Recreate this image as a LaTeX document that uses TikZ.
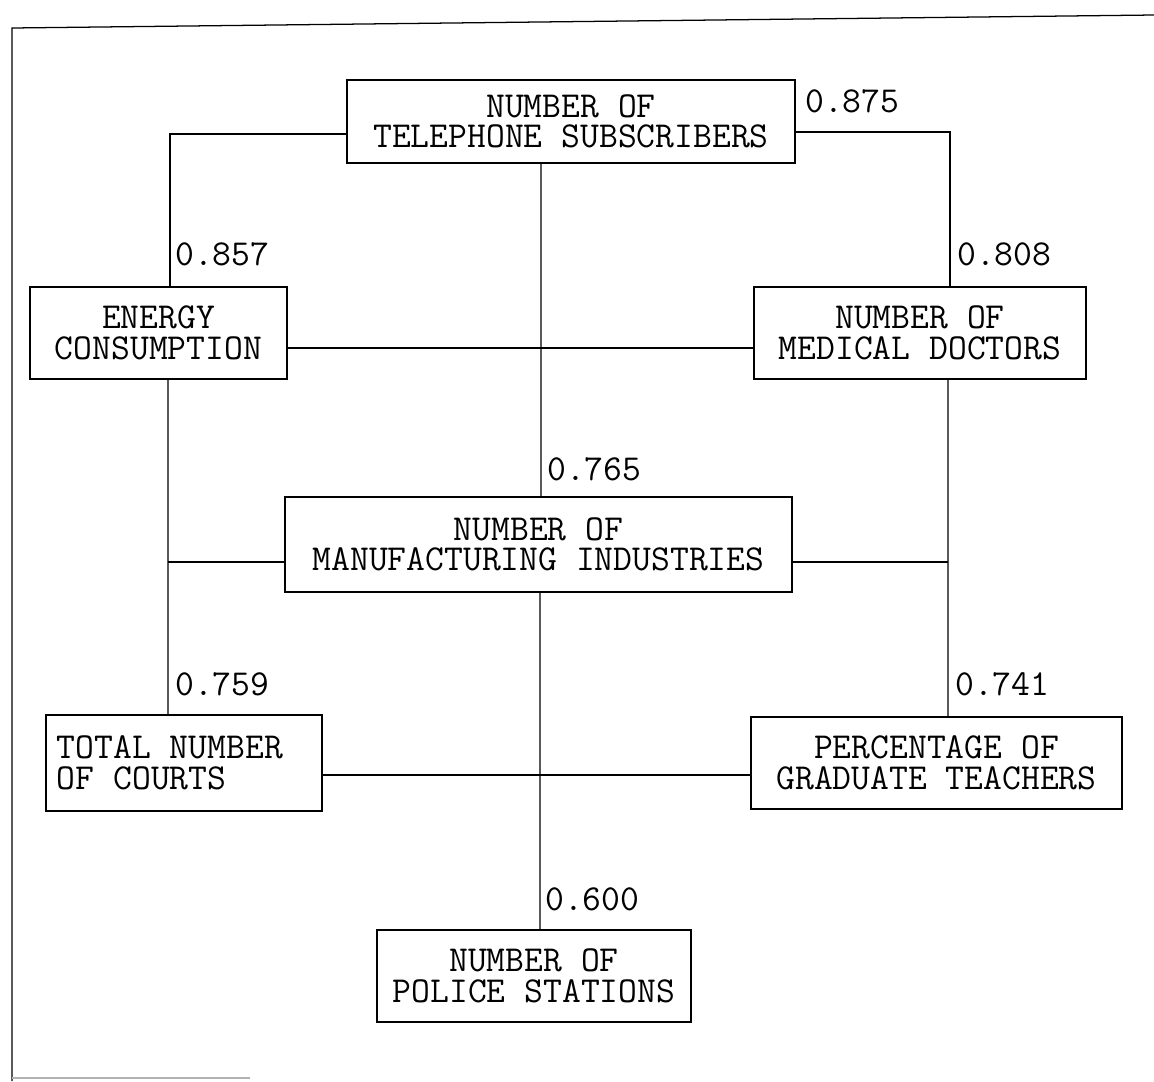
\documentclass[tikz,border=0pt]{standalone}
\usepackage{fontspec}
\usepackage{tikz}
\usetikzlibrary{calc,positioning}

\begin{document}
\begin{tikzpicture}[x=0.025cm,y=-0.025cm,
  box/.style={draw,line width=1.1pt,inner sep=0pt,align=center,
    font=\ttfamily\fontsize{26}{21.7}\selectfont},
  lbl/.style={anchor=base west,inner sep=0pt,
    font=\ttfamily\fontsize{26}{21.7}\selectfont},
  link/.style={line width=0.8pt}]
\useasboundingbox (0,0) rectangle (1154,1081);
% frame of the scanned page
\draw[line width=0.9pt] (12,1081)--(12,28)--(1154,15);
\draw[line width=0.9pt,gray!60] (12,1078)--(250,1078);

% boxes
\node[box,minimum width=11.2cm,minimum height=2.075cm] (phone) at (571,121.5)
  {NUMBER OF\\TELEPHONE SUBSCRIBERS};
\node[box,minimum width=6.425cm,minimum height=2.3cm] (energy) at (158.5,333)
  {ENERGY\\CONSUMPTION};
\node[box,minimum width=8.3cm,minimum height=2.3cm] (doctors) at (920,333)
  {NUMBER OF\\MEDICAL DOCTORS};
\node[box,minimum width=12.675cm,minimum height=2.375cm] (industry) at (538.5,544.5)
  {NUMBER OF\\MANUFACTURING INDUSTRIES};
\node[box,align=left,inner xsep=0.275cm,minimum height=2.4cm]
  (courts) at (184,763) {\makebox[6.35cm][l]{TOTAL NUMBER}\\OF COURTS};
\node[box,minimum width=9.275cm,minimum height=2.3cm] (teachers) at (936.5,763)
  {PERCENTAGE OF\\GRADUATE TEACHERS};
\node[box,minimum width=7.85cm,minimum height=2.3cm] (police) at (534,976)
  {NUMBER OF\\POLICE STATIONS};

% connectors
\draw[link] ([shift={(0,12.5)}]phone.west) -| ([shift={(11.5,0)}]energy.north);
\draw[link] ([shift={(0,10.5)}]phone.east) -| ([shift={(30,0)}]doctors.north);
\draw[link] ([shift={(-30,0)}]phone.south) -- ([shift={(2.5,0)}]industry.north);
\draw[link] ([shift={(0,15)}]energy.east) -- ([shift={(0,15)}]doctors.west);
\coordinate (energyS) at ([shift={(9.5,0)}]energy.south);
\coordinate (doctorsS) at ([shift={(28,0)}]doctors.south);
\draw[link] (energyS) -- ([shift={(-16,0)}]courts.north);
\draw[link] (doctorsS) -- ([shift={(11.5,0)}]teachers.north);
\coordinate (industryW) at ([shift={(0,17.5)}]industry.west);
\coordinate (industryE) at ([shift={(0,17.5)}]industry.east);
\draw[link] (industryW) -- (industryW -| energyS);
\draw[link] (industryE) -- (industryE -| doctorsS);
\draw[link] ([shift={(0,12)}]courts.east) -- ([shift={(0,12)}]teachers.west);
\draw[link] ([shift={(1.5,0)}]industry.south) -- ([shift={(6,0)}]police.north);

% coefficients
\node[lbl] (r1) at (805,112) {0.875};
\node[lbl] (r2) at (175,265) {0.857};
\node[lbl] (r3) at (957,265) {0.808};
\node[lbl] (r4) at (547,480) {0.765};
\node[lbl] (r5) at (175,695) {0.759};
\node[lbl] (r6) at (955,695) {0.741};
\node[lbl] (r7) at (545,910) {0.600};
\end{tikzpicture}
\end{document}
